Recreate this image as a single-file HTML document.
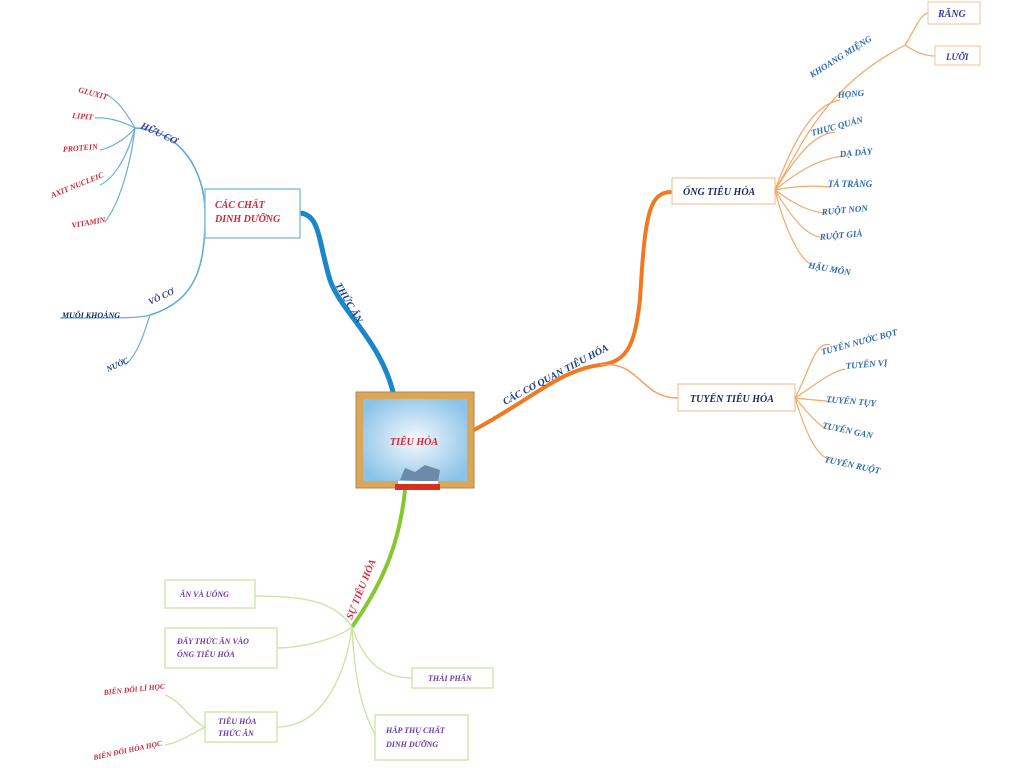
<!DOCTYPE html>
<html><head><meta charset="utf-8"><style>
html,body{margin:0;padding:0;background:#fff;width:1024px;height:768px;overflow:hidden}
svg text{font-family:"Liberation Serif",serif;font-weight:bold;font-style:italic}
</style></head><body>
<svg width="1024" height="768" viewBox="0 0 1024 768" xmlns="http://www.w3.org/2000/svg">
<defs>
<radialGradient id="bg" cx="50%" cy="50%" r="60%"><stop offset="0" stop-color="#f4f9fd"/><stop offset="1" stop-color="#8cc3e8"/></radialGradient>
</defs>
<!-- BLUE branch -->
<path d="M393,392 C380,340 340,310 330,280 C318,240 320,215 300,213" stroke="#1b86c8" stroke-width="5" fill="none"/>
<path d="M205,213 C205,170 180,130 135,128" stroke="#5aa6d6" stroke-width="1.5" fill="none"/>
<path d="M205,213 C205,260 200,300 150,315" stroke="#5aa6d6" stroke-width="1.5" fill="none"/>
<g stroke="#6aaed8" stroke-width="1.2" fill="none">
<path d="M135,128 C125,110 115,98 105,94"/>
<path d="M135,128 C120,120 105,117 95,118"/>
<path d="M135,128 C125,140 110,148 100,150"/>
<path d="M135,128 C128,155 115,178 100,185"/>
<path d="M135,128 C130,170 118,205 105,222"/>
<path d="M150,315 C140,318 130,318 60,318"/>
<path d="M150,315 C145,330 138,355 125,365"/>
</g>
<rect x="205" y="189" width="95" height="49" fill="#fff" stroke="#8fbfe0" stroke-width="1.5"/>
<text x="215" y="208" font-size="10" fill="#d0283a">CÁC CHẤT</text>
<text x="215" y="222" font-size="10" fill="#d0283a">DINH DƯỠNG</text>
<text transform="translate(335,285) rotate(60)" font-size="10" fill="#1a3a8a">THỨC ĂN</text>
<text transform="translate(140,128) rotate(25)" font-size="10" fill="#3a3a9a">HỮU CƠ</text>
<text transform="translate(150,305) rotate(-25)" font-size="9" fill="#3a3a9a">VÔ CƠ</text>
<g font-size="8" fill="#d0283a">
<text transform="translate(78,92) rotate(15)">GLUXIT</text>
<text transform="translate(72,118) rotate(5)">LIPIT</text>
<text transform="translate(63,152) rotate(-5)">PROTEIN</text>
<text transform="translate(52,198) rotate(-22)">AXIT NUCLEIC</text>
<text transform="translate(72,228) rotate(-10)">VITAMIN</text>
</g>
<text x="62" y="318" font-size="8" fill="#1a2a5a">MUỐI KHOÁNG</text>
<text transform="translate(108,372) rotate(-25)" font-size="8" fill="#1a3a8a">NƯỚC</text>

<!-- ORANGE branch -->
<path d="M474,430 C530,400 560,370 600,365 C630,362 635,340 640,300 C645,210 650,192 672,192" stroke="#f07a22" stroke-width="4" fill="none"/>
<path d="M600,365 C640,360 640,398 678,398" stroke="#f4a060" stroke-width="1.5" fill="none"/>
<rect x="672" y="178" width="103" height="26" fill="#fff" stroke="#f5c39a" stroke-width="1.2"/>
<text x="683" y="195" font-size="10" fill="#1a2a5a">ỐNG TIÊU HÓA</text>
<rect x="678" y="384" width="117" height="27" fill="#fff" stroke="#f5c39a" stroke-width="1.2"/>
<text x="690" y="402" font-size="10" fill="#1a2a5a">TUYẾN TIÊU HÓA</text>
<text transform="translate(505,405) rotate(-28)" font-size="10" fill="#1a3a8a">CÁC CƠ QUAN TIÊU HÓA</text>
<g stroke="#f4a868" stroke-width="1.2" fill="none">
<path d="M775,190 C800,150 820,90 905,45"/>
<path d="M905,45 C915,30 920,14 928,13"/>
<path d="M905,45 C915,52 925,56 935,56"/>
<path d="M775,190 C790,150 810,105 840,100"/>
<path d="M775,190 C795,160 810,135 835,132"/>
<path d="M775,190 C800,170 820,158 845,156"/>
<path d="M775,190 C800,185 820,186 830,187"/>
<path d="M775,190 C795,205 810,212 825,213"/>
<path d="M775,190 C790,215 805,235 820,237"/>
<path d="M775,190 C785,230 800,260 812,265"/>
<path d="M795,398 C810,370 815,340 830,345"/>
<path d="M795,398 C815,385 830,372 845,369"/>
<path d="M795,398 C810,400 820,400 832,402"/>
<path d="M795,398 C810,415 820,428 830,430"/>
<path d="M795,398 C805,430 815,455 830,460"/>
</g>
<rect x="928" y="2" width="52" height="22" fill="#fff" stroke="#f5c39a"/>
<text x="938" y="17" font-size="10" fill="#3a3a9a" font-style="normal">RĂNG</text>
<rect x="935" y="46" width="45" height="19" fill="#fff" stroke="#f5c39a"/>
<text x="946" y="60" font-size="9" fill="#3a3a9a">LƯỠI</text>
<g font-size="9" fill="#2a6ab0">
<text transform="translate(812,78) rotate(-32)">KHOANG MIỆNG</text>
<text transform="translate(838,98) rotate(-5)">HỌNG</text>
<text transform="translate(812,136) rotate(-15)">THỰC QUẢN</text>
<text transform="translate(840,157) rotate(-5)">DẠ DÀY</text>
<text transform="translate(828,187) rotate(0)">TÁ TRÀNG</text>
<text transform="translate(822,215) rotate(-5)">RUỘT NON</text>
<text transform="translate(820,240) rotate(-5)">RUỘT GIÀ</text>
<text transform="translate(808,268) rotate(10)">HẬU MÔN</text>
<text transform="translate(822,355) rotate(-15)">TUYẾN NƯỚC BỌT</text>
<text transform="translate(846,369) rotate(-5)">TUYẾN VỊ</text>
<text transform="translate(826,402) rotate(5)">TUYẾN TỤY</text>
<text transform="translate(822,428) rotate(12)">TUYẾN GAN</text>
<text transform="translate(824,462) rotate(12)">TUYẾN RUỘT</text>
</g>

<!-- GREEN branch -->
<path d="M405,490 C400,540 385,580 352,627" stroke="#86c832" stroke-width="4" fill="none"/>
<g stroke="#c8e4a0" stroke-width="1.3" fill="none">
<path d="M352,627 C335,600 300,596 255,596"/>
<path d="M352,627 C335,640 300,648 277,648"/>
<path d="M352,627 C345,680 320,727 277,727"/>
<path d="M352,627 C365,665 385,678 412,678"/>
<path d="M352,627 C355,690 365,715 375,735"/>
<path d="M205,727 C190,720 180,700 165,695"/>
<path d="M205,727 C190,735 180,742 165,745"/>
</g>
<text transform="translate(352,620) rotate(-68)" font-size="10" fill="#d0283a">SỰ TIÊU HÓA</text>
<g fill="#fff" stroke="#c8e4a0" stroke-width="1.3">
<rect x="165" y="580" width="90" height="28"/>
<rect x="165" y="628" width="112" height="40"/>
<rect x="205" y="712" width="72" height="30"/>
<rect x="412" y="668" width="81" height="20"/>
<rect x="375" y="715" width="93" height="45"/>
</g>
<g font-size="8" fill="#6a3aa8">
<text x="180" y="597">ĂN VÀ UỐNG</text>
<text x="177" y="644">ĐẨY THỨC ĂN VÀO</text>
<text x="177" y="657">ỐNG TIÊU HÓA</text>
<text x="218" y="724">TIÊU HÓA</text>
<text x="218" y="736">THỨC ĂN</text>
<text x="428" y="681">THẢI PHÂN</text>
<text x="386" y="733">HẤP THỤ CHẤT</text>
<text x="386" y="747">DINH DƯỠNG</text>
</g>
<g font-size="7.5" fill="#d0283a">
<text transform="translate(104,695) rotate(-6)">BIẾN ĐỔI LÍ HỌC</text>
<text transform="translate(94,760) rotate(-12)">BIẾN ĐỔI HÓA HỌC</text>
</g>

<!-- center -->
<rect x="356" y="392" width="118" height="96" fill="#d9a65a" stroke="#b88440" stroke-width="1"/>
<rect x="363" y="399" width="104" height="82" fill="url(#bg)"/>
<text x="390" y="445" font-size="10" fill="#e02030" font-family="Liberation Sans,sans-serif" font-style="normal">TIÊU HÓA</text>
<path d="M400,480 L405,468 L415,472 L425,465 L440,470 L438,482 Z" fill="#6a8aa8"/>
<rect x="395" y="484" width="45" height="6" fill="#d83020"/>
<rect x="398" y="481" width="40" height="3" fill="#fff"/>
</svg>
</body></html>
